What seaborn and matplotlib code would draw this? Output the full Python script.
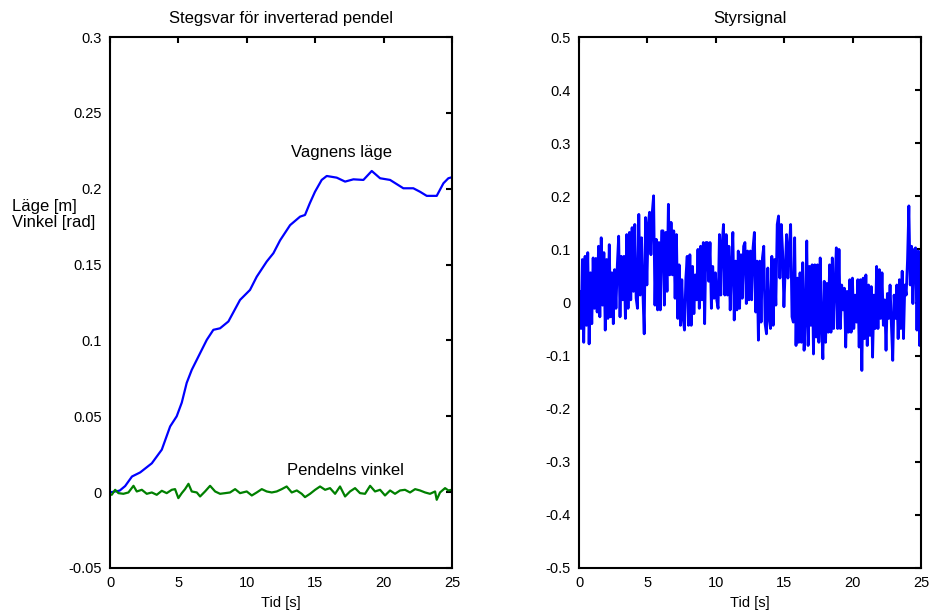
import numpy as np
import pandas as pd
import matplotlib
matplotlib.use("Agg")
import matplotlib.pyplot as plt
from matplotlib.ticker import FuncFormatter, MultipleLocator
import seaborn as sns

# Cart position [m]
cart_t = [0.1, 0.7, 1.1, 1.6, 2.2, 3.05, 3.78, 4.39, 4.87, 5.24, 5.6, 5.97, 6.58,
          7.07, 7.55, 8.04, 8.65, 9.5, 10.23, 10.72, 11.45, 11.94, 12.43, 13.16,
          13.89, 14.25, 14.6, 14.98, 15.47, 15.84, 16.57, 17.18, 17.79, 18.52,
          19.13, 19.74, 20.47, 21.44, 22.17, 22.66, 23.15, 23.88, 24.37, 24.73, 25.0]
cart_pos = [0.0, 0.001, 0.004, 0.0103, 0.013, 0.019, 0.028, 0.0433, 0.05, 0.059,
            0.072, 0.0806, 0.0916, 0.1004, 0.107, 0.108, 0.1125, 0.1267, 0.1333,
            0.142, 0.152, 0.1575, 0.166, 0.176, 0.1816, 0.1827, 0.1904, 0.198,
            0.2058, 0.2084, 0.2073, 0.2047, 0.2062, 0.2058, 0.2117, 0.2069, 0.2058,
            0.2003, 0.2003, 0.198, 0.1953, 0.1953, 0.2036, 0.2069, 0.2076]

# Pendulum angle [rad]
pend_t = [0.12, 0.37, 0.61, 0.97, 1.34, 1.71, 1.95, 2.32, 2.68, 3.05, 3.41, 3.78,
          4.14, 4.51, 4.75, 4.99, 5.24, 5.48, 5.73, 5.97, 6.34, 6.58, 6.94, 7.31,
          7.68, 8.04, 8.41, 8.77, 9.14, 9.50, 9.99, 10.36, 10.72, 11.09, 11.45,
          11.82, 12.18, 12.55, 12.91, 13.28, 13.65, 14.01, 14.25, 14.62, 14.99,
          15.35, 15.72, 16.08, 16.45, 16.81, 17.18, 17.54, 17.91, 18.27, 18.64,
          19.01, 19.37, 19.74, 20.10, 20.47, 20.83, 21.20, 21.56, 21.93, 22.30,
          22.66, 23.03, 23.39, 23.76, 23.88, 24.12, 24.49, 24.73, 24.98]
pend_ang = [-0.00176, 0.00154, -0.00066, -0.0011, -0.00022, 0.00417, 0.00044,
            0.00154, -0.0011, -0.00022, -0.00176, 0.00088, -0.00066, 0.00154,
            0.00198, -0.00395, -0.00066, 0.00198, 0.00549, 0.00044, -0.00022,
            -0.00285, 0.00044, 0.00417, 0.00044, -0.0011, -0.00066, -0.00022,
            0.00198, -0.00066, 0.00044, -0.0022, -0.00022, 0.00198, 0.00044,
            -0.00022, 0.00044, 0.00198, 0.00373, -0.00022, 0.0011, -0.0011,
            -0.00329, -0.0011, 0.00154, 0.00373, 0.00154, 0.00264, -0.0011,
            0.00373, -0.00285, 0.00044, 0.00264, -0.00066, -0.0011, 0.00417,
            0.00044, 0.00154, -0.0022, 0.0011, -0.0011, 0.0011, 0.00154,
            -0.00022, 0.00198, 0.0011, -0.00022, -0.0011, 0.00044, -0.00505,
            -0.00022, 0.00264, 0.0011, 0.00154]

# Control signal, sampled uniformly over 0..25 s
control_u = [
    0.021, -0.049, 0.081, -0.075, 0.087, -0.043, 0.094, -0.078, 0.056, -0.040,
    0.084, -0.011, 0.083, -0.018, 0.106, -0.027, 0.122, -0.005, 0.094, -0.052,
    0.081, -0.030, 0.109, -0.027, 0.056, -0.040, 0.062, -0.011, 0.071, 0.125,
    -0.027, 0.087, 0.005, 0.087, -0.030, 0.128, -0.011, 0.132, 0.005, 0.141,
    0.021, 0.147, 0.008, -0.011, 0.166, 0.014, 0.122, 0.021, -0.059, 0.160,
    0.033, 0.147, 0.170, 0.090, 0.170, 0.201, -0.005, 0.119, -0.014, 0.113,
    -0.014, 0.135,
    0.135, -0.005, 0.132, 0.021, 0.185, 0.052, 0.151, 0.052, 0.135, 0.008,
    0.128, -0.030, 0.071, -0.043, 0.043, -0.030, -0.052, 0.046, 0.087, -0.043,
    0.090, -0.043, 0.068, -0.021, 0.052, 0.005, 0.100, -0.011, 0.106, 0.005,
    0.113, -0.040, 0.113, 0.113, 0.040, 0.113, -0.011, 0.068, 0.008, 0.056,
    0.005, -0.011, 0.128, 0.014, 0.109, 0.147, 0.014, 0.128, 0.014, 0.106,
    -0.014, 0.071, 0.132, -0.033, 0.078, -0.014, 0.097, -0.011, 0.090, 0.008,
    0.106, 0.113, -0.002, 0.097, 0.005, 0.097,
    0.005, 0.103, 0.132, -0.018, 0.078, -0.071, 0.078, -0.037, 0.084, 0.106,
    -0.040, -0.059, 0.065, -0.030, -0.049, 0.087, -0.043, 0.081, -0.005, 0.147,
    0.163, 0.046, 0.147, 0.097, -0.008, 0.065, 0.128, 0.046, 0.103, 0.147,
    -0.027, -0.037, 0.122, -0.081, 0.046, -0.075, 0.056, -0.075, 0.075, -0.090,
    -0.030, 0.116, -0.081, 0.068, -0.043, 0.071, -0.097, 0.071, -0.065, 0.071,
    -0.075, 0.084, -0.043, -0.106, 0.040, -0.075, 0.036, -0.056, 0.071, -0.056,
    0.084, -0.049, 0.033, 0.103, -0.049, 0.100,
    -0.049, 0.033, -0.014, 0.027, -0.084, 0.021, -0.056, 0.043, -0.056, 0.046,
    -0.049, 0.014, -0.037, 0.043, -0.084, 0.043, -0.128, 0.046, -0.068, 0.052,
    -0.081, 0.033, -0.062, 0.030, -0.103, 0.014, -0.049, 0.068, -0.049, 0.062,
    -0.030, 0.056, -0.043, 0.005, -0.090, 0.017, -0.030, 0.033, -0.043, -0.109,
    0.014, -0.030, 0.033, -0.068, 0.043, -0.049, 0.059, -0.068, 0.033, 0.014,
    0.081, 0.182, 0.033, 0.106, -0.002, 0.100, 0.103, -0.052, 0.097, -0.081,
    0.097,
]
control_t = np.linspace(0.05, 25.0, len(control_u))

left_title = "Stegsvar för inverterad pendel"
right_title = "Styrsignal"
x_label = "Tid [s]"
y_label = "Läge [m]\nVinkel [rad]"

sns.set_style("white")
plt.rcParams["font.family"] = ["Liberation Sans", "DejaVu Sans"]
plt.rcParams["axes.unicode_minus"] = False
plt.rcParams["text.color"] = "black"
plt.rcParams["axes.labelcolor"] = "black"
plt.rcParams["axes.titlecolor"] = "black"
FS_TICK = 10.5
FS_TEXT = 12

fig = plt.figure(figsize=(9.33, 6.11), dpi=100)
ax1 = fig.add_axes([0.118, 0.0704, 0.3665, 0.869])
ax2 = fig.add_axes([0.6206, 0.0704, 0.3665, 0.869])

cart_df = pd.DataFrame({"t": cart_t, "v": cart_pos})
pend_df = pd.DataFrame({"t": pend_t, "v": pend_ang})
ctrl_df = pd.DataFrame({"t": control_t, "v": control_u})

sns.lineplot(data=cart_df, x="t", y="v", ax=ax1, color="#0000ff", lw=1.6,
             estimator=None, sort=False)
sns.lineplot(data=pend_df, x="t", y="v", ax=ax1, color="#008000", lw=1.6,
             estimator=None, sort=False)
sns.lineplot(data=ctrl_df, x="t", y="v", ax=ax2, color="#0000ff", lw=2.0,
             estimator=None, sort=False)

fmt = FuncFormatter(lambda v, _: f"{round(v, 6):g}")

for ax, (ylo, yhi, ystep), title in [(ax1, (-0.05, 0.3, 0.05), left_title),
                                     (ax2, (-0.5, 0.5, 0.1), right_title)]:
    ax.set_xlim(0, 25)
    ax.set_ylim(ylo, yhi)
    ax.xaxis.set_major_locator(MultipleLocator(5))
    ax.yaxis.set_major_locator(MultipleLocator(ystep))
    ax.xaxis.set_major_formatter(fmt)
    ax.yaxis.set_major_formatter(fmt)
    ax.tick_params(direction="in", length=4, width=1.5, top=True, right=True,
                   labelsize=FS_TICK, color="black", labelcolor="black", pad=6)
    for s in ax.spines.values():
        s.set_linewidth(1.5)
        s.set_color("black")
    ax.set_title(title, fontsize=FS_TEXT, pad=10, color="black")
    ax.set_xlabel(x_label, fontsize=FS_TICK, labelpad=4, color="black")
    ax.set_ylabel("")

ax1.text(16.9, 0.2236, "Vagnens läge", ha="center", va="center",
         fontsize=FS_TEXT, color="black")
ax1.text(17.2, 0.0141, "Pendelns vinkel", ha="center", va="center",
         fontsize=FS_TEXT, color="black")
fig.text(12 / 933, 1 - 214.5 / 611, y_label, ha="left", va="center",
         fontsize=FS_TEXT, linespacing=1.05, color="black")

fig.savefig("out.png", dpi=100, facecolor="white")
